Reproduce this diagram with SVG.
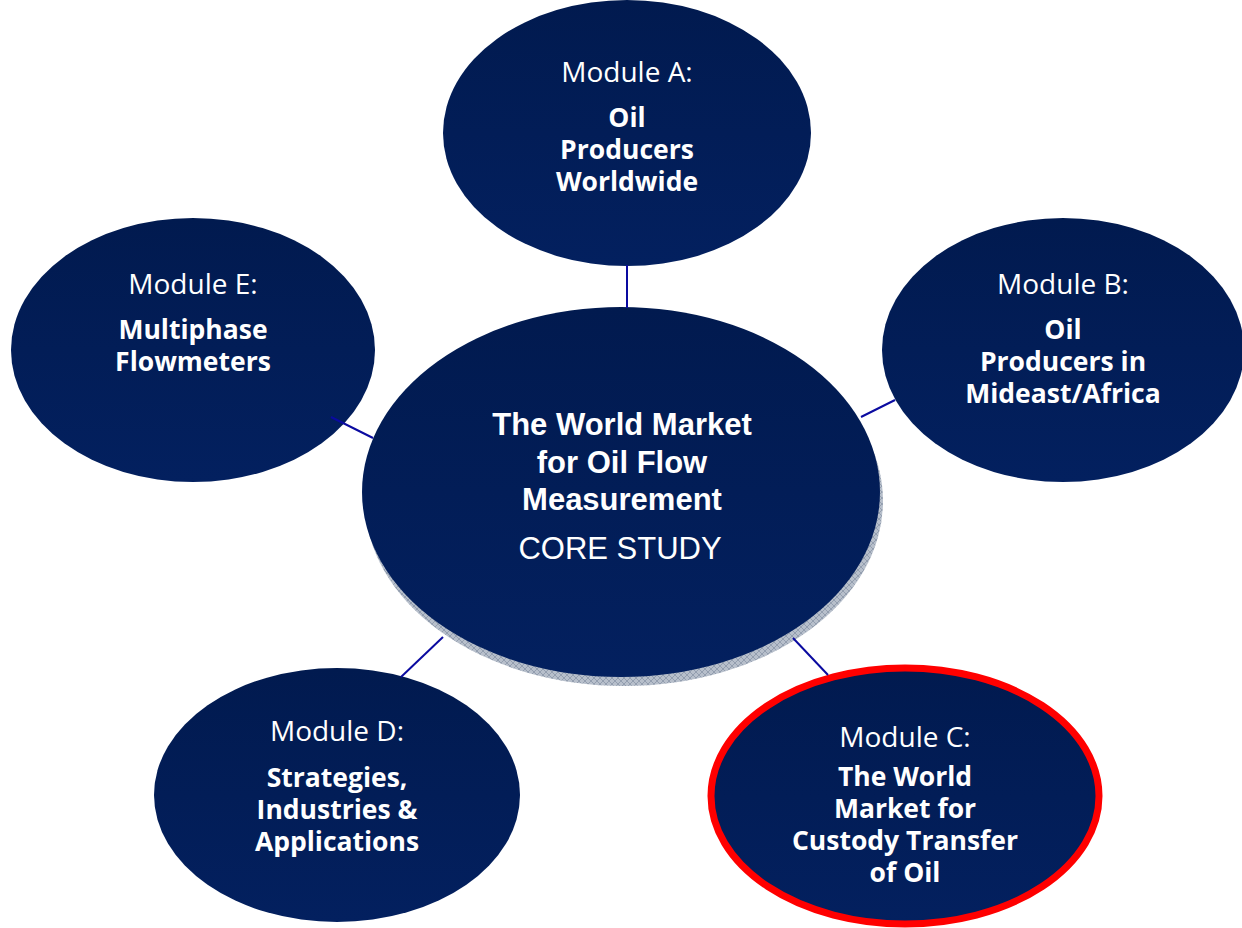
<svg xmlns="http://www.w3.org/2000/svg" width="1242" height="928" viewBox="0 0 1242 928">
  <defs>
    <linearGradient id="navy" x1="0" y1="0" x2="0" y2="1">
      <stop offset="0" stop-color="#011a4f"/>
      <stop offset="1" stop-color="#03205f"/>
    </linearGradient>
    <pattern id="hatch" width="6" height="6" patternUnits="userSpaceOnUse">
      <rect width="6" height="6" fill="#b7bfcb"/>
      <path d="M0 0L6 6M6 0L0 6" stroke="#8a96a8" stroke-width="0.8"/>
    </pattern>
    <style>
      .node { fill: url(#navy); }
      .reg { font-family: "Open Sans", "Noto Sans", sans-serif; font-size: 28px; fill: #ffffff; text-anchor: middle; }
      .bold { font-family: "Open Sans", "Noto Sans", sans-serif; font-size: 26.5px; font-weight: bold; fill: #ffffff; text-anchor: middle; }
      .core { font-family: "Liberation Sans", Arial, sans-serif; font-size: 31px; fill: #ffffff; text-anchor: middle; }
      .coreb { font-family: "Liberation Sans", Arial, sans-serif; font-size: 31px; font-weight: bold; fill: #ffffff; text-anchor: middle; }
      .conn { stroke: #0a0aa0; stroke-width: 2; fill: none; }
    </style>
  </defs>
  <rect width="1242" height="928" fill="#ffffff"/>

  <g id="moduleA">
    <ellipse class="node" cx="627" cy="133" rx="184" ry="133"/>
    <text class="reg" x="627" y="82">Module A:</text>
    <text class="bold" x="627" y="127">Oil</text>
    <text class="bold" x="627" y="159">Producers</text>
    <text class="bold" x="627" y="191">Worldwide</text>
  </g>

  <g id="moduleE">
    <ellipse class="node" cx="193" cy="350" rx="182" ry="132"/>
    <text class="reg" x="193" y="294">Module E:</text>
    <text class="bold" x="193" y="339">Multiphase</text>
    <text class="bold" x="193" y="371">Flowmeters</text>
  </g>

  <g id="moduleB">
    <ellipse class="node" cx="1063" cy="350" rx="181" ry="132"/>
    <text class="reg" x="1063" y="294">Module B:</text>
    <text class="bold" x="1063" y="339">Oil</text>
    <text class="bold" x="1063" y="371">Producers in</text>
    <text class="bold" x="1063" y="403">Mideast/Africa</text>
  </g>

  <g id="moduleD">
    <ellipse class="node" cx="337" cy="795" rx="183" ry="127"/>
    <text class="reg" x="337" y="741">Module D:</text>
    <text class="bold" x="337" y="787">Strategies,</text>
    <text class="bold" x="337" y="819">Industries &amp;</text>
    <text class="bold" x="337" y="851">Applications</text>
  </g>

  <g id="moduleC">
    <ellipse class="node" cx="905" cy="796" rx="194" ry="128" stroke="#ff0000" stroke-width="7"/>
    <text class="reg" x="905" y="747">Module C:</text>
    <text class="bold" x="905" y="786">The World</text>
    <text class="bold" x="905" y="818">Market for</text>
    <text class="bold" x="905" y="850">Custody Transfer</text>
    <text class="bold" x="905" y="882">of Oil</text>
  </g>

  <g id="core">
    <ellipse cx="624" cy="501" rx="259" ry="185" fill="url(#hatch)"/>
    <ellipse class="node" cx="621" cy="492" rx="259" ry="185"/>
    <text class="coreb" x="622" y="435">The World Market</text>
    <text class="coreb" x="622" y="473">for Oil Flow</text>
    <text class="coreb" x="622" y="510">Measurement</text>
    <text class="core" x="620" y="559">CORE STUDY</text>
  </g>

  <g id="connectors">
    <line class="conn" x1="627" y1="265" x2="627" y2="308"/>
    <line class="conn" x1="331" y1="417" x2="373" y2="438"/>
    <line class="conn" x1="861" y1="417" x2="895" y2="400"/>
    <line class="conn" x1="401" y1="677" x2="443" y2="637"/>
    <line class="conn" x1="793" y1="638" x2="828" y2="675"/>
  </g>
</svg>
